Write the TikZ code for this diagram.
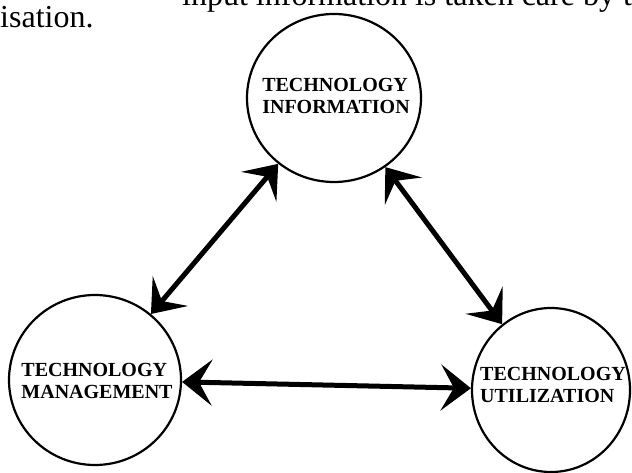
\documentclass[tikz,border=0pt]{standalone}
\usepackage{fontspec}
\setmainfont{Liberation Serif}
\usetikzlibrary{arrows.meta,shapes.geometric}
\begin{document}
\begin{tikzpicture}[x=1pt,y=-1pt,
  bub/.style={ellipse, draw, line width=2.2pt, inner sep=0pt},
  lbl/.style={font=\fontsize{20}{22}\selectfont\bfseries, align=left, inner sep=0pt},
  link/.style={line width=5pt, {Stealth[length=30pt,width=46pt,inset=13pt]}-{Stealth[length=30pt,width=46pt,inset=13pt]}},
  prose/.style={font=\fontsize{32}{32}\selectfont, inner sep=0pt, anchor=base west}]
\useasboundingbox (0,0) rectangle (632,473);
\clip (0,0) rectangle (632,473);
\node[prose] (line1) at (182,6) {input information is taken care by technology};
\node[prose] (line2) at (0,28) {isation.};
\node[bub, minimum width=174pt, minimum height=168pt] (info) at (334,98) {};
\node[bub, minimum width=172pt, minimum height=170pt] (mgmt) at (95,380) {};
\node[bub, minimum width=158pt, minimum height=164pt] (util) at (551,390) {};
\node[lbl] (infot) at (336,96) {TECHNOLOGY\\INFORMATION};
\node[lbl] (mgmtt) at (97,381) {TECHNOLOGY\\MANAGEMENT};
\node[lbl] (utilt) at (553,385) {TECHNOLOGY\\UTILIZATION};
\draw[link] (info) -- (mgmt);
\draw[link] (info) -- (util);
\draw[link] (mgmt) -- (util);
\end{tikzpicture}
\end{document}
